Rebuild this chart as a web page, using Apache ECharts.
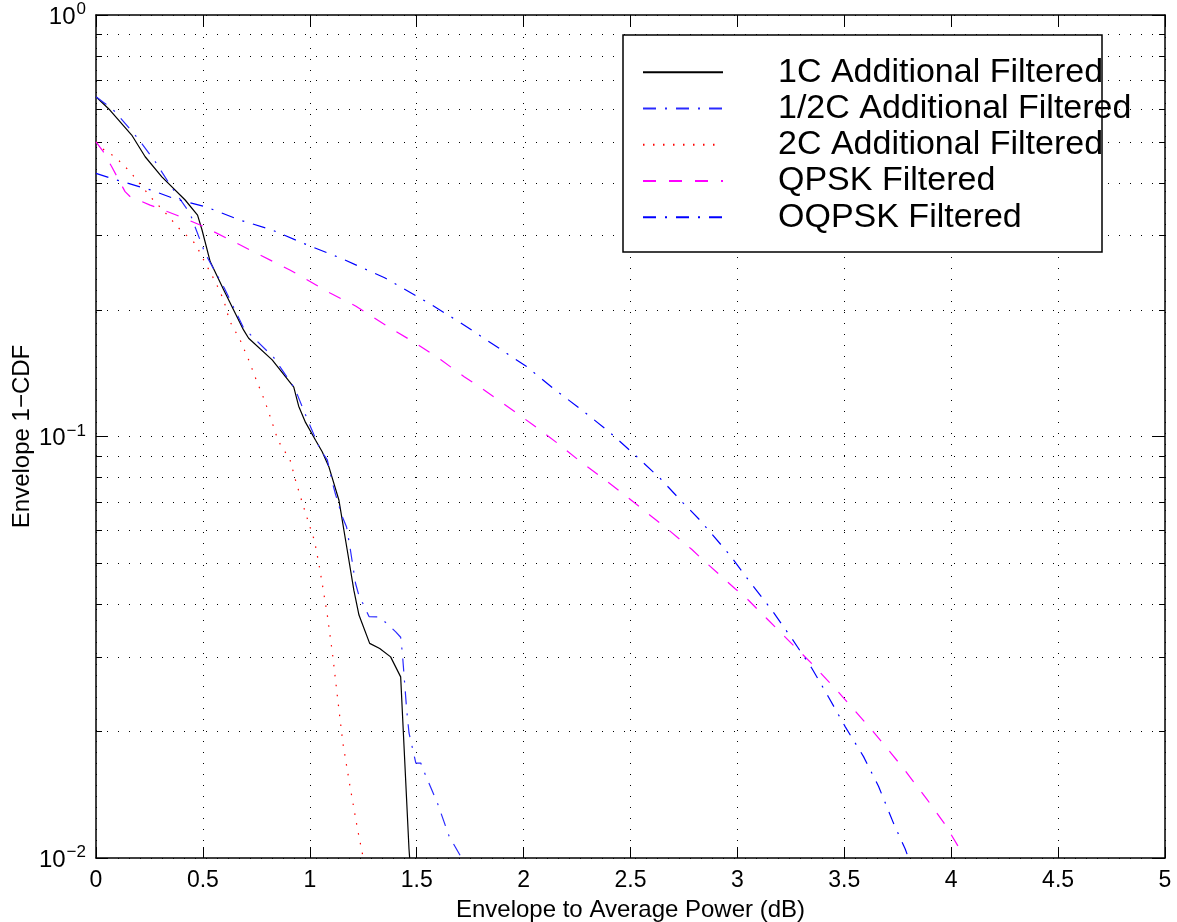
<!DOCTYPE html>
<html>
<head>
<meta charset="utf-8">
<script src="https://cdn.jsdelivr.net/npm/echarts@6/dist/echarts.min.js"></script>
<style>
html,body{margin:0;padding:0;background:#fff;}
#chart{width:1177px;height:922px;}
</style>
</head>
<body>
<div id="chart"></div>
<script>
// ---- data ----
var seriesNames = ['1C Additional Filtered', '1/2C Additional Filtered', '2C Additional Filtered', 'QPSK Filtered', 'OQPSK Filtered'];

var oneC_x = [0, 0.065, 0.167, 0.23, 0.308, 0.417, 0.475, 0.496, 0.534, 0.597, 0.69, 0.714, 0.824, 0.925, 0.948, 0.98, 1.027, 1.058, 1.089, 1.136, 1.175, 1.206, 1.23, 1.28, 1.327, 1.378, 1.425, 1.464, 1.467];
var oneC_y = [0.64, 0.595, 0.519, 0.461, 0.413, 0.364, 0.335, 0.309, 0.260, 0.223, 0.179, 0.171, 0.152, 0.131, 0.118, 0.108, 0.098, 0.092, 0.0848, 0.0707, 0.0538, 0.0432, 0.0377, 0.0323, 0.0314, 0.0300, 0.0269, 0.0105, 0.0100];

var halfC_x = [0, 0.042, 0.089, 0.19, 0.277, 0.347, 0.44, 0.51, 0.6, 0.69, 0.831, 0.93, 0.988, 1.05, 1.082, 1.105, 1.12, 1.152, 1.172, 1.19, 1.214, 1.23, 1.25, 1.277, 1.327, 1.402, 1.425, 1.433, 1.453, 1.464, 1.496, 1.519, 1.535, 1.597, 1.652, 1.71];
var halfC_y = [0.64, 0.617, 0.59, 0.514, 0.449, 0.395, 0.338, 0.272, 0.225, 0.181, 0.154, 0.130, 0.110, 0.0929, 0.088, 0.078, 0.073, 0.0645, 0.061, 0.0538, 0.0448, 0.0419, 0.040, 0.0374, 0.0373, 0.0344, 0.0334, 0.0306, 0.0225, 0.0198, 0.0168, 0.0168, 0.016, 0.0135, 0.01125, 0.0100];

var twoC_x = [0, 0.042, 0.089, 0.159, 0.253, 0.323, 0.39, 0.464, 0.511, 0.558, 0.597, 0.625, 0.675, 0.714, 0.75, 0.788, 0.82, 0.852, 0.878, 0.906, 0.933, 0.961, 0.992, 1.022, 1.042, 1.058, 1.082, 1.108, 1.131, 1.155, 1.188, 1.222, 1.25];
var twoC_y = [0.5, 0.476, 0.461, 0.425, 0.371, 0.34, 0.311, 0.287, 0.258, 0.233, 0.211, 0.188, 0.169, 0.152, 0.136, 0.122, 0.1094, 0.0977, 0.0929, 0.0887, 0.0788, 0.0707, 0.063, 0.0566, 0.050, 0.0448, 0.0377, 0.030, 0.0237, 0.0187, 0.0148, 0.0118, 0.0100];

var qpsk_x = [0, 0.034, 0.073, 0.136, 0.159, 0.253, 0.378, 0.503, 0.675, 0.909, 1.097, 1.214, 1.378, 1.496, 1.613, 1.722, 1.796, 1.936, 2.045, 2.155, 2.256, 2.365, 2.474, 2.576, 2.682, 2.786, 2.84, 2.988, 3.043, 3.137, 3.277, 3.34, 3.465, 3.637, 3.769, 3.886, 3.972, 4.05];
var qpsk_y = [0.5, 0.474, 0.437, 0.381, 0.371, 0.354, 0.335, 0.315, 0.2846, 0.248, 0.2186, 0.204, 0.1806, 0.1664, 0.152, 0.1386, 0.131, 0.1167, 0.1065, 0.0967, 0.088, 0.080, 0.0726, 0.066, 0.0598, 0.054, 0.0509, 0.0436, 0.0413, 0.037, 0.0314, 0.0292, 0.0250, 0.0199, 0.0165, 0.0138, 0.0120, 0.0103];

var oqpsk_x = [0, 0.097, 0.206, 0.261, 0.363, 0.511, 0.675, 0.824, 0.972, 1.144, 1.35, 1.558, 1.699, 1.827, 2.014, 2.139, 2.272, 2.396, 2.521, 2.638, 2.747, 2.824, 2.965, 3.051, 3.16, 3.254, 3.348, 3.426, 3.504, 3.59, 3.66, 3.73, 3.785, 3.80];
var oqpsk_y = [0.421, 0.406, 0.391, 0.384, 0.367, 0.351, 0.326, 0.309, 0.287, 0.265, 0.238, 0.207, 0.187, 0.1694, 0.1465, 0.130, 0.1156, 0.103, 0.0904, 0.0796, 0.0695, 0.0634, 0.0523, 0.0457, 0.0388, 0.0332, 0.0282, 0.0241, 0.0205, 0.0174, 0.0148, 0.0121, 0.0105, 0.0100];

var xTicks = [0, 0.5, 1, 1.5, 2, 2.5, 3, 3.5, 4, 4.5, 5];
var yMajorTicks = [0.01, 0.1, 1];
var yMinorTicks = [0.02, 0.03, 0.04, 0.05, 0.06, 0.07, 0.08, 0.09, 0.2, 0.3, 0.4, 0.5, 0.6, 0.7, 0.8, 0.9];
var xTitle = 'Envelope to Average Power (dB)';
var yTitle = 'Envelope 1\u2212CDF';

// ---- chart ----
var X_MIN = xTicks[0], X_MAX = xTicks[xTicks.length - 1];
var FONT = '"Liberation Sans", Arial, Helvetica, sans-serif';
function pairs(xs, ys) { return xs.map(function (x, i) { return [x, ys[i]]; }); }

var chart = echarts.init(document.getElementById('chart'), null, { renderer: 'canvas' });

function yLabel(v) {
  var e = Math.round(Math.log10(v));
  return '{b|10}{s|' + (e === 0 ? '0' : '\u2212' + (-e)) + '}';
}

function lineSeries(name, data, color, dash, width) {
  return {
    name: name, type: 'line', data: data, showSymbol: false, symbol: 'none',
    xAxisIndex: 0, yAxisIndex: 0, z: 3,
    lineStyle: { color: color, width: width, type: dash },
    itemStyle: { color: color },
    emphasis: { disabled: true }, animation: false
  };
}

var option = {
  backgroundColor: '#fff',
  animation: false,
  textStyle: { fontFamily: FONT, color: '#000' },
  grid: { left: 96, right: 12, top: 15, bottom: 64, containLabel: false, outerBoundsMode: 'none' },
  xAxis: [{
    type: 'value', min: X_MIN, max: X_MAX, interval: 0.5, position: 'bottom',
    name: xTitle, nameLocation: 'middle', nameGap: 40, nameMoveOverlap: false,
    nameTextStyle: { fontSize: 24, color: '#000', fontFamily: FONT },
    axisLine: { show: true, onZero: false, lineStyle: { color: '#000', width: 1.5 } },
    axisTick: { show: true, inside: true, length: 11, lineStyle: { color: '#000', width: 1 } },
    axisLabel: { fontSize: 23, color: '#000', margin: 11, fontFamily: FONT,
      showMinLabel: true, showMaxLabel: true,
      formatter: function (v) { return String(v); } },
    splitLine: { show: true, lineStyle: { color: '#000', width: 1, type: [1, 10] } }
  }, {
    type: 'value', min: X_MIN, max: X_MAX, interval: 0.5, position: 'top',
    axisLine: { show: true, onZero: false, lineStyle: { color: '#000', width: 1.5 } },
    axisTick: { show: true, inside: true, length: 11, lineStyle: { color: '#000', width: 1 } },
    axisLabel: { show: false }, splitLine: { show: false }
  }],
  yAxis: [{
    type: 'log', logBase: 10, min: yMajorTicks[0], max: yMajorTicks[yMajorTicks.length - 1], position: 'left',
    name: yTitle, nameLocation: 'middle', nameGap: 62, nameMoveOverlap: false,
    nameTextStyle: { fontSize: 24, color: '#000', fontFamily: FONT },
    axisLine: { show: true, onZero: false, lineStyle: { color: '#000', width: 1.5 } },
    axisTick: { show: true, inside: true, length: 12, lineStyle: { color: '#000', width: 1 } },
    axisLabel: {
      margin: 10, showMinLabel: true, showMaxLabel: true,
      formatter: yLabel,
      rich: {
        b: { fontSize: 24, color: '#000', fontFamily: FONT, lineHeight: 28, verticalAlign: 'bottom' },
        s: { fontSize: 17, color: '#000', fontFamily: FONT, lineHeight: 16, verticalAlign: 'top', padding: [0, 0, 0, 1] }
      }
    },
    splitLine: { show: true, lineStyle: { color: '#000', width: 1, type: [1, 10] } }
  }, {
    type: 'log', logBase: 10, min: yMajorTicks[0], max: yMajorTicks[yMajorTicks.length - 1], position: 'right',
    axisLine: { show: true, onZero: false, lineStyle: { color: '#000', width: 1.5 } },
    axisTick: { show: true, inside: true, length: 12, lineStyle: { color: '#000', width: 1 } },
    axisLabel: { show: false }, splitLine: { show: false }
  }],
  legend: {
    show: true, data: seriesNames, orient: 'vertical', left: 642, top: 54,
    padding: 0, itemGap: 0, itemWidth: 80, itemHeight: 14,
    selectedMode: false,
    itemStyle: { opacity: 0 },
    textStyle: { fontSize: 34, color: '#000', fontFamily: FONT, lineHeight: 36.3, padding: [0, 0, 0, 50] },
    z: 10
  },
  graphic: [{
    type: 'rect', z: 8, silent: true,
    shape: { x: 623, y: 35, width: 479, height: 217 },
    style: { fill: '#fff', stroke: '#000', lineWidth: 1.5 }
  }],
  series: [
    {
      name: 'minorGrid', type: 'custom', xAxisIndex: 0, yAxisIndex: 0, z: 1, silent: true,
      data: yMinorTicks.map(function (v) { return [X_MIN, v]; }),
      encode: { x: 0, y: 1 }, clip: false,
      renderItem: function (params, api) {
        var v = api.value(1);
        var p0 = api.coord([X_MIN, v]);
        var p1 = api.coord([X_MAX, v]);
        var y = Math.round(p0[1]) + 0.5;
        return { type: 'group', children: [
          { type: 'line', shape: { x1: p0[0], y1: y, x2: p1[0], y2: y }, style: { stroke: '#000', lineWidth: 1, lineDash: [1, 10] } },
          { type: 'line', shape: { x1: p0[0], y1: y, x2: p0[0] + 6, y2: y }, style: { stroke: '#000', lineWidth: 1 } },
          { type: 'line', shape: { x1: p1[0] - 6, y1: y, x2: p1[0], y2: y }, style: { stroke: '#000', lineWidth: 1 } }
        ] };
      }
    },
    lineSeries(seriesNames[0], pairs(oneC_x, oneC_y), '#000000', 'solid', 1.2),
    lineSeries(seriesNames[1], pairs(halfC_x, halfC_y), '#2a2aff', [13, 9, 2, 9], 1.2),
    lineSeries(seriesNames[2], pairs(twoC_x, twoC_y), '#ff0000', [1.5, 8.5], 1.2),
    lineSeries(seriesNames[3], pairs(qpsk_x, qpsk_y), '#ff00ff', [13, 13], 1.2),
    lineSeries(seriesNames[4], pairs(oqpsk_x, oqpsk_y), '#0000ff', [13, 9, 2, 9], 1.2)
  ]
};
chart.setOption(option);
</script>
</body>
</html>
